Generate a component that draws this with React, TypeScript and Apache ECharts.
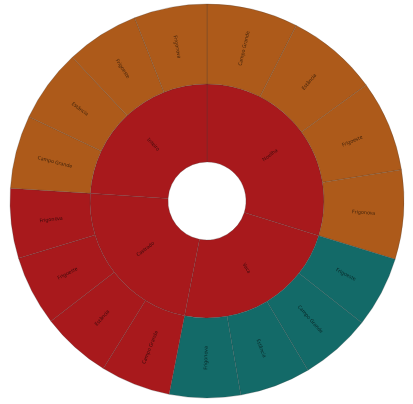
import React, { useEffect, useRef } from "react";
import * as echarts from "echarts";

const ORANGE = "#ad5a1a";
const RED = "#a8191c";
const TEAL = "#136a68";

// Inner ring categories (clockwise from top) and their colours
const groups = ["Novilha", "Vaca", "Castrado", "Inteiro"];
const groupOuterColors = [ORANGE, TEAL, RED, ORANGE];

// Outer ring children per group (display order) and values
const childrenNames = [
  ["Campo Grande", "Estância", "Frigoeste", "Frigonova"],
  ["Frigoeste", "Campo Grande", "Estância", "Frigonova"],
  ["Campo Grande", "Estância", "Frigoeste", "Frigonova"],
  ["Campo Grande", "Estância", "Frigoeste", "Frigonova"],
];
const childrenValues = [
  [9, 9, 9, 8.8],
  [7, 7, 7, 7],
  [6.9, 6.9, 6.9, 6.9],
  [7.2, 7.2, 7.2, 7.2],
];

export default function App() {
  const ref = useRef<HTMLDivElement>(null);
  useEffect(() => {
    if (!ref.current) return;
    const chart = echarts.init(ref.current, null, { renderer: "svg" });
    const data = groups.map((g, i) => ({
      name: g,
      itemStyle: { color: RED },
      children: childrenNames[i].map((n, j) => ({
        name: n,
        value: childrenValues[i][j],
        itemStyle: { color: groupOuterColors[i] },
      })),
    }));
    chart.setOption({
      animation: false,
      series: [
        {
          type: "sunburst",
          center: [207, 201],
          radius: [39, 197],
          sort: null,
          startAngle: 90,
          nodeClick: false,
          data,
          itemStyle: {
            borderColor: "rgba(60,60,60,0.4)",
            borderWidth: 0.6,
          },
          label: {
            rotate: "radial",
            fontSize: 5,
            color: "rgba(0,0,0,0.65)",
            fontFamily: "Noto Sans",
          },
          emphasis: { focus: "none" },
          levels: [
            {},
            { r0: 39, r: 117 },
            { r0: 117, r: 197 },
          ],
        },
      ],
    });
    return () => chart.dispose();
  }, []);
  return (
    <div
      ref={ref}
      style={{ position: "fixed", left: 0, top: 0, width: 413, height: 404 }}
    />
  );
}
